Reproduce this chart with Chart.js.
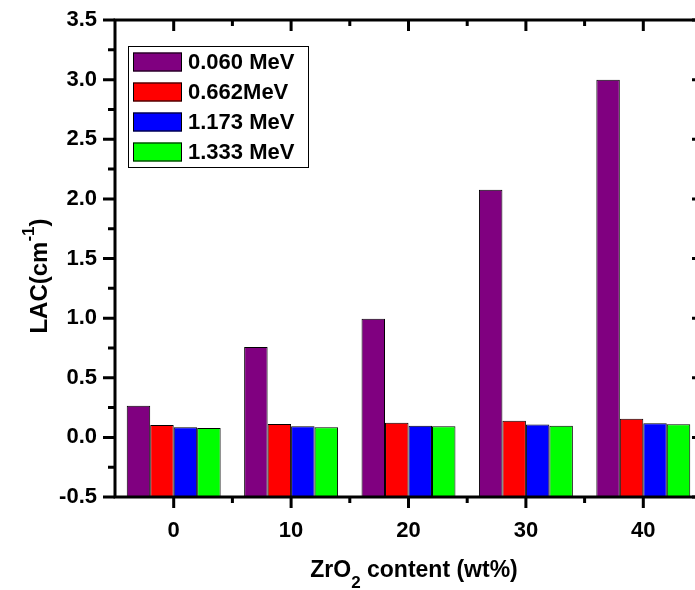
<!DOCTYPE html>
<html>
<head>
<meta charset="utf-8">
<script src="https://cdn.jsdelivr.net/npm/chart.js@4/dist/chart.umd.min.js"></script>
<style>
html,body{margin:0;padding:0;background:#fff;overflow:hidden;}
#wrap{width:710px;height:590px;}
</style>
</head>
<body>
<div id="wrap"><canvas id="c" width="710" height="590"></canvas></div>
<script>
// ---- data ----
const categories = ['0', '10', '20', '30', '40'];
const seriesLabels = ['0.060 MeV', '0.662MeV', '1.173 MeV', '1.333 MeV'];
const e0060 = [0.266, 0.757, 0.994, 2.077, 3.000];
const e0662 = [0.104, 0.113, 0.123, 0.140, 0.157];
const e1173 = [0.085, 0.093, 0.098, 0.107, 0.118];
const e1333 = [0.079, 0.085, 0.093, 0.098, 0.110];
const yTicks = [-0.5, 0.0, 0.5, 1.0, 1.5, 2.0, 2.5, 3.0, 3.5];

const colors = ['#800080', '#ff0000', '#0000ff', '#00ff00'];
const values = [e0060, e0662, e1173, e1333];
const FONT = 'Arial, "Liberation Sans", sans-serif';

const datasets = values.map((v, i) => ({
  label: seriesLabels[i],
  data: v,
  backgroundColor: colors[i],
  borderColor: '#000',
  borderWidth: 1,
  borderSkipped: false,
  base: yTicks[0],
  categoryPercentage: 0.8,
  barPercentage: 1.0
}));

const framePlugin = {
  id: 'frame',
  afterDatasetsDraw(chart) {
    const ctx = chart.ctx;
    const a = chart.chartArea;
    const xs = chart.scales.x, ys = chart.scales.y;
    ctx.save();
    ctx.strokeStyle = '#000';
    ctx.lineWidth = 3;
    ctx.lineCap = 'butt';
    ctx.beginPath();
    ctx.rect(a.left, a.top, a.right - a.left, a.bottom - a.top);
    ctx.stroke();
    ctx.beginPath();
    for (let i = 0; i < yTicks.length; i++) {
      const p = ys.getPixelForValue(yTicks[i]);
      ctx.moveTo(a.left - 12, p); ctx.lineTo(a.left, p);
      ctx.moveTo(a.right, p); ctx.lineTo(a.right - 10, p);
      if (i < yTicks.length - 1) {
        const m = ys.getPixelForValue((yTicks[i] + yTicks[i + 1]) / 2);
        ctx.moveTo(a.left - 7, m); ctx.lineTo(a.left, m);
        ctx.moveTo(a.right, m); ctx.lineTo(a.right - 5, m);
      }
    }
    for (let i = 0; i < categories.length; i++) {
      const p = xs.getPixelForValue(i);
      ctx.moveTo(p, a.bottom); ctx.lineTo(p, a.bottom + 11);
      ctx.moveTo(p, a.top); ctx.lineTo(p, a.top + 11);
      if (i < categories.length - 1) {
        const m = (p + xs.getPixelForValue(i + 1)) / 2;
        ctx.moveTo(m, a.bottom); ctx.lineTo(m, a.bottom + 6);
        ctx.moveTo(m, a.top); ctx.lineTo(m, a.top + 6);
      }
    }
    ctx.stroke();
    ctx.restore();
  },
  afterDraw(chart) {
    const ctx = chart.ctx;
    ctx.save();
    const lx = 128, ly = 46, lw = 180, lh = 121;
    ctx.fillStyle = '#fff';
    ctx.fillRect(lx, ly, lw, lh);
    ctx.strokeStyle = '#000';
    ctx.lineWidth = 1;
    ctx.strokeRect(lx + 0.5, ly + 0.5, lw, lh);
    chart.data.datasets.forEach((ds, i) => {
      const cy = 62 + i * 30;
      ctx.fillStyle = ds.backgroundColor;
      ctx.fillRect(133, cy - 9.5, 49, 19);
      ctx.strokeStyle = '#000';
      ctx.strokeRect(133.5, cy - 9, 48, 18);
      ctx.fillStyle = '#000';
      ctx.font = 'bold 22px ' + FONT;
      ctx.textBaseline = 'middle';
      ctx.textAlign = 'left';
      ctx.fillText(ds.label, 188, cy + 1);
    });
    ctx.fillStyle = '#000';
    ctx.textBaseline = 'alphabetic';
    ctx.textAlign = 'left';
    const big = 'bold 23px ' + FONT, small = 'bold 17px ' + FONT;
    const p1 = 'ZrO', p2 = '2', p3 = ' content (wt%)';
    ctx.font = big; const w1 = ctx.measureText(p1).width, w3 = ctx.measureText(p3).width;
    ctx.font = small; const w2 = ctx.measureText(p2).width;
    let x = 414 - (w1 + w2 + w3) / 2;
    ctx.font = big; ctx.fillText(p1, x, 577); x += w1;
    ctx.font = small; ctx.fillText(p2, x, 588); x += w2;
    ctx.font = big; ctx.fillText(p3, x, 577);
    ctx.translate(47, 276);
    ctx.rotate(-Math.PI / 2);
    const bigY = 'bold 24px ' + FONT, smallY = 'bold 17px ' + FONT;
    const q1 = 'LAC(cm', q2 = '-1', q3 = ')';
    ctx.font = bigY; const v1 = ctx.measureText(q1).width, v3 = ctx.measureText(q3).width;
    ctx.font = smallY; const v2 = ctx.measureText(q2).width;
    let t = -(v1 + v2 + v3) / 2;
    ctx.font = bigY; ctx.fillText(q1, t, 0); t += v1;
    ctx.font = smallY; ctx.fillText(q2, t, -13); t += v2;
    ctx.font = bigY; ctx.fillText(q3, t, 0);
    ctx.restore();
  }
};

new Chart(document.getElementById('c'), {
  type: 'bar',
  data: { labels: categories, datasets: datasets },
  options: {
    responsive: false,
    animation: false,
    layout: { padding: { top: 20, right: 8, left: 0, bottom: 0 } },
    plugins: { legend: { display: false }, tooltip: { enabled: false } },
    scales: {
      x: {
        type: 'category',
        offset: true,
        grid: { display: false, drawTicks: false },
        border: { display: false },
        ticks: { color: '#000', font: { family: FONT, size: 22, weight: 'bold' }, padding: 21, maxRotation: 0 },
        afterFit(scale) { scale.height = 93; scale.paddingLeft = 0; scale.paddingRight = 0; }
      },
      y: {
        min: yTicks[0],
        max: yTicks[yTicks.length - 1],
        grid: { display: false, drawTicks: false },
        border: { display: false },
        ticks: {
          stepSize: 0.5,
          color: '#000',
          font: { family: FONT, size: 22, weight: 'bold' },
          padding: 18,
          callback: (v) => Number(v).toFixed(1)
        },
        afterFit(scale) { scale.width = 115; scale.paddingTop = 0; scale.paddingBottom = 0; }
      }
    }
  },
  plugins: [framePlugin]
});
</script>
</body>
</html>
